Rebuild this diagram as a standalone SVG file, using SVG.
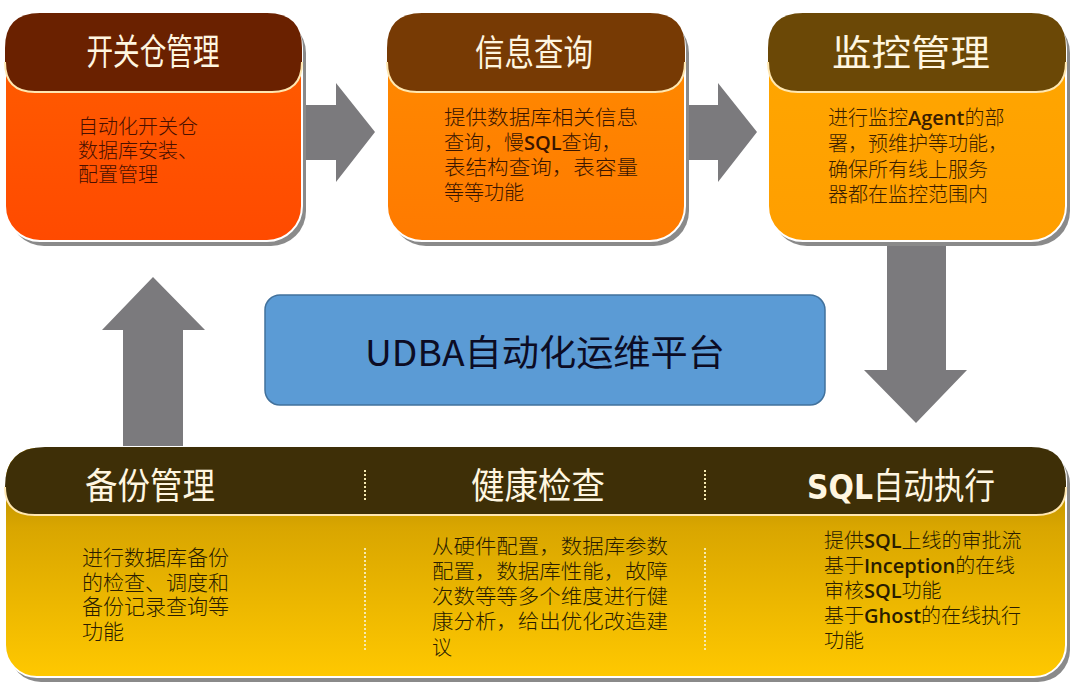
<svg xmlns="http://www.w3.org/2000/svg" width="1079" height="689" viewBox="0 0 1079 689">
<defs>
<linearGradient id="gBottom" x1="0" y1="0" x2="0" y2="1">
<stop offset="0" stop-color="#a88000"/>
<stop offset="0.35" stop-color="#d9a600"/>
<stop offset="1" stop-color="#ffc800"/>
</linearGradient>
<linearGradient id="g1" x1="0" y1="0" x2="0" y2="1">
<stop offset="0" stop-color="#ff5f00"/><stop offset="1" stop-color="#ff4a00"/>
</linearGradient>
<linearGradient id="g2" x1="0" y1="0" x2="0" y2="1">
<stop offset="0" stop-color="#ff8c00"/><stop offset="1" stop-color="#ff7a00"/>
</linearGradient>
<linearGradient id="g3" x1="0" y1="0" x2="0" y2="1">
<stop offset="0" stop-color="#ffa800"/><stop offset="1" stop-color="#ff9e00"/>
</linearGradient>
</defs>
<style>
.shadow{fill:#8a8a8a}
.outer{stroke:#ffffff;stroke-width:2}
.hline{fill:none;stroke:#ffe7b0;stroke-width:2}
.title{font-family:"Noto Sans CJK SC",sans-serif;fill:#fff6e0;font-size:36px;text-anchor:middle}
.body{font-family:"Noto Sans CJK SC",sans-serif;font-size:20px;font-weight:300}
.arrow{fill:#7b7a7d}
.sep{stroke:#f5e9b0;stroke-width:2;stroke-dasharray:2 2}
.lat{font-family:"Open Sans","Noto Sans",sans-serif;font-weight:600}
</style>
<rect width="1079" height="689" fill="#ffffff"/>

<g id="connectors">
<polygon class="arrow" points="300,105 336,105 336,83 375,132 336,182 336,160 300,160"/>
<polygon class="arrow" points="683,105 718,105 718,83 757,132 718,182 718,160 683,160"/>
<polygon class="arrow" points="887,241 946,241 946,370 967,370 916,423 864,370 887,370"/>
<polygon class="arrow" points="123,449 123,330 102,330 153,277 205,330 183,330 183,449"/>
</g>

<g id="node-kaiguancang">
<rect class="shadow" x="9" y="18" width="297" height="228" rx="35"/>
<rect class="outer" x="5" y="13" width="297" height="228" rx="35" fill="url(#g1)"/>
<path d="M5,62 Q5,92 35,92 L272,92 Q302,92 302,62 L302,48 Q302,13 267,13 L40,13 Q5,13 5,48 Z" fill="#6a2100"/>
<path class="hline" d="M5,62 Q5,92 35,92 L272,92 Q302,92 302,62"/>
<text class="title" x="153" y="65" textLength="133" lengthAdjust="spacingAndGlyphs">开关仓管理</text>
<g class="body" fill="#4a1000">
<text x="78" y="134">自动化开关仓</text>
<text x="78" y="158">数据库安装、</text>
<text x="78" y="182">配置管理</text>
</g>
</g>

<g id="node-xinxichaxun">
<rect class="shadow" x="391" y="18" width="298" height="228" rx="35"/>
<rect class="outer" x="387" y="13" width="298" height="228" rx="35" fill="url(#g2)"/>
<path d="M387,62 Q387,92 417,92 L655,92 Q685,92 685,62 L685,48 Q685,13 650,13 L422,13 Q387,13 387,48 Z" fill="#773a04"/>
<path class="hline" d="M387,62 Q387,92 417,92 L655,92 Q685,92 685,62"/>
<text class="title" x="534" y="66" textLength="118" lengthAdjust="spacingAndGlyphs">信息查询</text>
<g class="body" fill="#3a1500">
<text x="444" y="125" textLength="194" lengthAdjust="spacingAndGlyphs">提供数据库相关信息</text>
<text x="444" y="150">查询，慢<tspan class="lat">SQL</tspan>查询，</text>
<text x="444" y="175" textLength="194" lengthAdjust="spacingAndGlyphs">表结构查询，表容量</text>
<text x="444" y="200">等等功能</text>
</g>
</g>

<g id="node-jiankong">
<rect class="shadow" x="772" y="18" width="298" height="228" rx="35"/>
<rect class="outer" x="768" y="13" width="298" height="228" rx="35" fill="url(#g3)"/>
<path d="M768,62 Q768,92 798,92 L1036,92 Q1066,92 1066,62 L1066,48 Q1066,13 1031,13 L803,13 Q768,13 768,48 Z" fill="#6b4806"/>
<path class="hline" d="M768,62 Q768,92 798,92 L1036,92 Q1066,92 1066,62"/>
<text class="title" x="911" y="66" textLength="158" lengthAdjust="spacingAndGlyphs">监控管理</text>
<g class="body" fill="#3a1e00">
<text x="828" y="125">进行监控<tspan class="lat">Agent</tspan>的部</text>
<text x="828" y="151">署，预维护等功能，</text>
<text x="828" y="177">确保所有线上服务</text>
<text x="828" y="202">器都在监控范围内</text>
</g>
</g>

<g id="node-udba">
<rect x="265" y="295" width="560" height="110" rx="15" fill="#5b9bd5" stroke="#41719c" stroke-width="1.5"/>
<text x="545" y="366" font-family="Noto Sans CJK SC,sans-serif" font-size="36" fill="#0c0c24" text-anchor="middle" textLength="360" lengthAdjust="spacingAndGlyphs">UDBA自动化运维平台</text>
</g>

<g id="node-bottom">
<rect class="shadow" x="9" y="452" width="1061" height="230" rx="32"/>
<rect class="outer" x="5" y="447" width="1061" height="230" rx="32" fill="url(#gBottom)"/>
<path d="M5,487 Q5,515 35,515 L1036,515 Q1066,515 1066,487 L1066,482 Q1066,447 1031,447 L45,447 Q5,447 5,487 Z" fill="#3e2f07"/>
<path class="hline" d="M5,487 Q5,515 35,515 L1036,515 Q1066,515 1066,487" stroke="#fff3b0"/>
<line class="sep" x1="365" y1="470" x2="365" y2="502"/>
<line class="sep" x1="365" y1="548" x2="365" y2="652"/>
<line class="sep" x1="705" y1="470" x2="705" y2="502"/>
<line class="sep" x1="705" y1="548" x2="705" y2="652"/>
</g>

<g id="node-beifen">
<text class="title" x="150" y="499" textLength="130" lengthAdjust="spacingAndGlyphs">备份管理</text>
<g class="body" fill="#2a1d00" font-size="21">
<text x="82" y="565" style="font-size:21px">进行数据库备份</text>
<text x="82" y="590" style="font-size:21px">的检查、调度和</text>
<text x="82" y="614" style="font-size:21px">备份记录查询等</text>
<text x="82" y="639" style="font-size:21px">功能</text>
</g>
</g>

<g id="node-jiankang">
<text class="title" x="538" y="499" textLength="134" lengthAdjust="spacingAndGlyphs">健康检查</text>
<g class="body" fill="#2a1d00">
<text x="432" y="554" textLength="236" lengthAdjust="spacingAndGlyphs">从硬件配置，数据库参数</text>
<text x="432" y="579" textLength="236" lengthAdjust="spacingAndGlyphs">配置，数据库性能，故障</text>
<text x="432" y="604" textLength="236" lengthAdjust="spacingAndGlyphs">次数等等多个维度进行健</text>
<text x="432" y="629" textLength="236" lengthAdjust="spacingAndGlyphs">康分析，给出优化改造建</text>
<text x="432" y="655">议</text>
</g>
</g>

<g id="node-sql">
<text x="807" y="499" font-family="Noto Sans CJK SC,sans-serif" font-size="36" fill="#fff6e0"><tspan font-family="DejaVu Sans,sans-serif" font-weight="bold" font-size="33" textLength="66" lengthAdjust="spacingAndGlyphs">SQL</tspan><tspan textLength="122" lengthAdjust="spacingAndGlyphs">自动执行</tspan></text>
<g class="body" fill="#2a1d00">
<text x="824" y="548">提供<tspan class="lat">SQL</tspan>上线的审批流</text>
<text x="824" y="573">基于<tspan class="lat">Inception</tspan>的在线</text>
<text x="824" y="598">审核<tspan class="lat">SQL</tspan>功能</text>
<text x="824" y="623">基于<tspan class="lat">Ghost</tspan>的在线执行</text>
<text x="824" y="648">功能</text>
</g>
</g>
</svg>
